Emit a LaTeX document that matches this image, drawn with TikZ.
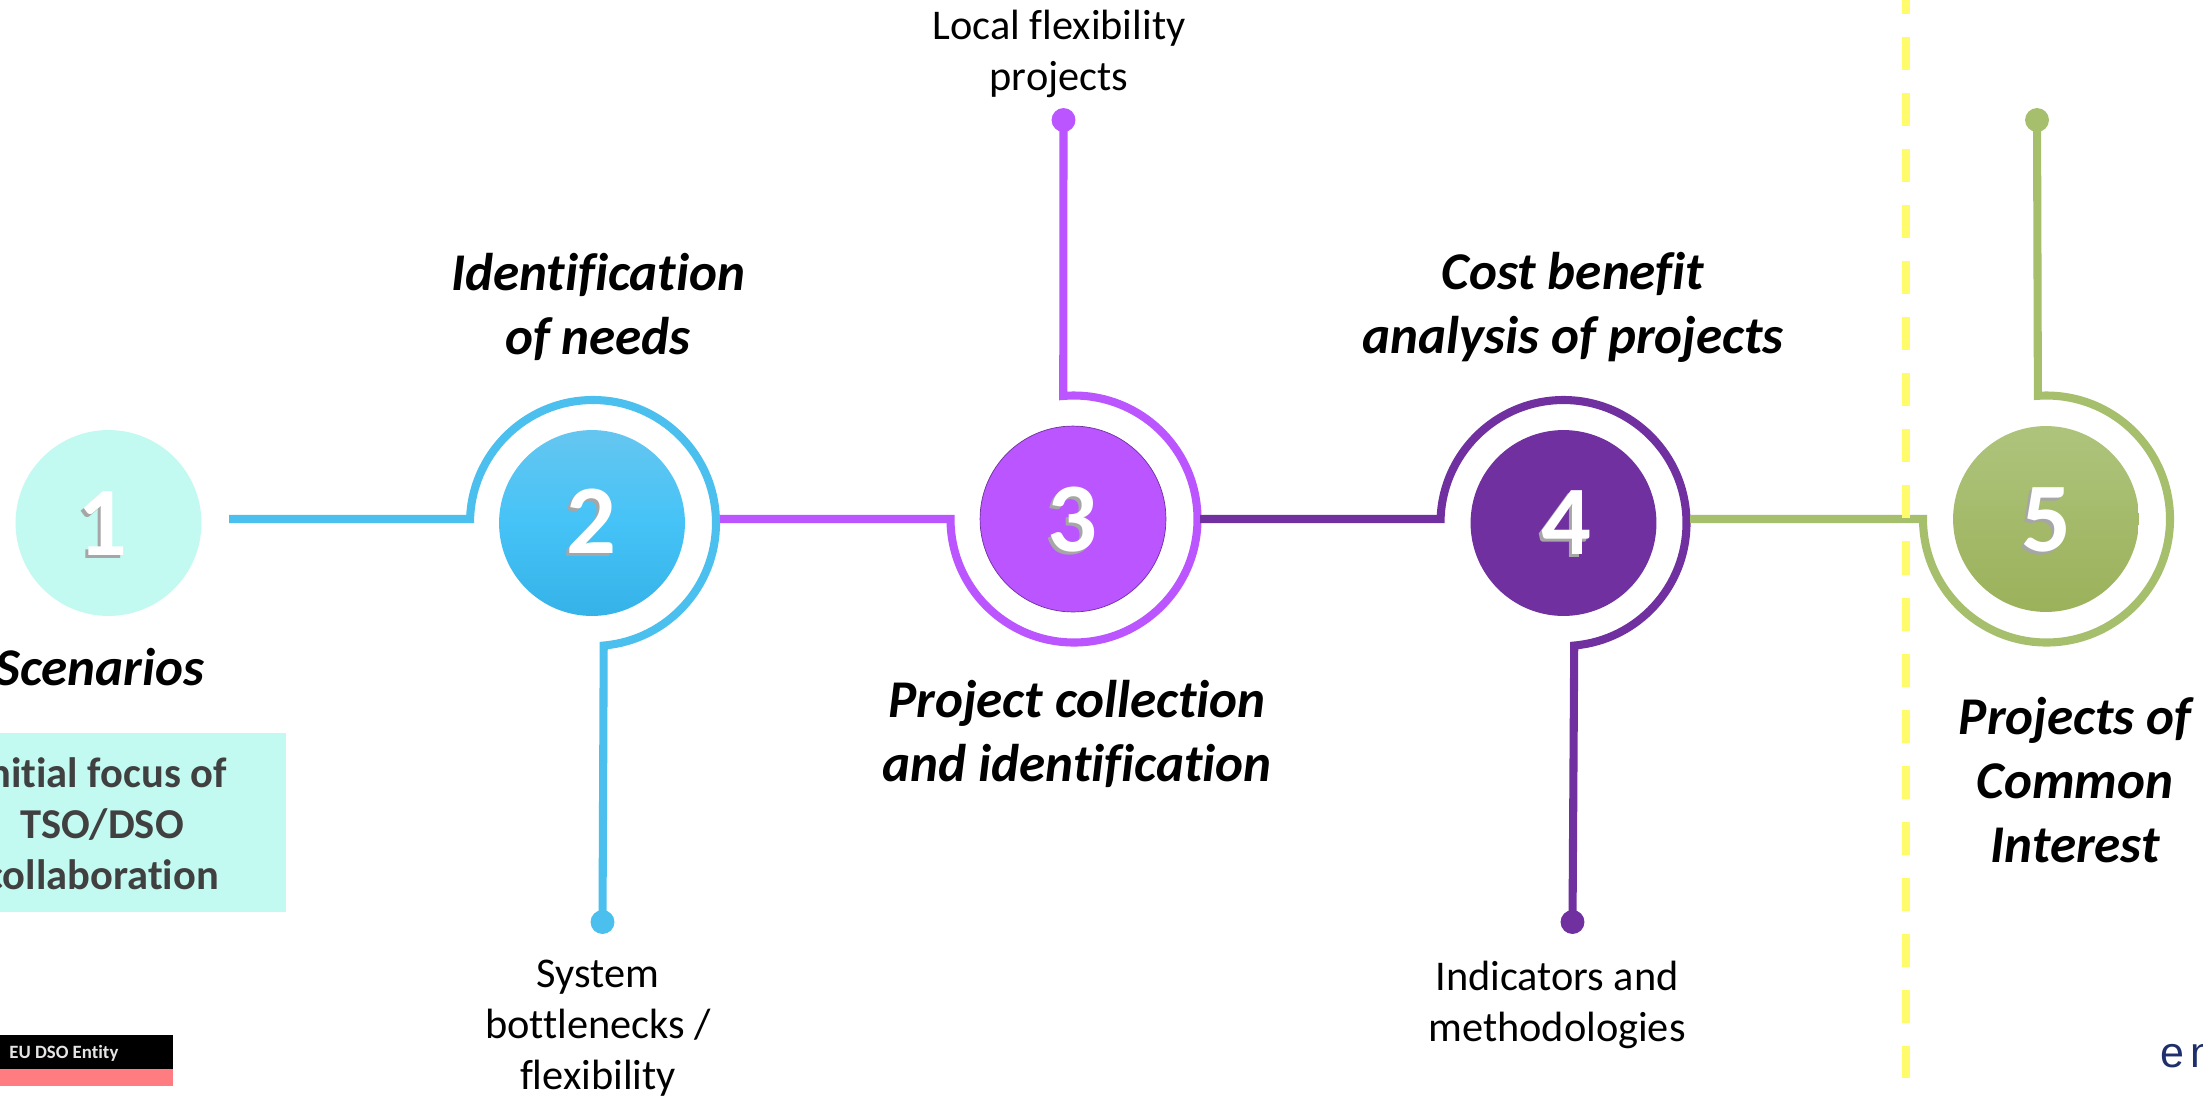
\documentclass[tikz,border=0pt]{standalone}
\usepackage{fontspec}
\setmainfont[Ligatures=NoCommon]{Carlito}
\newfontfamily\logofont{Liberation Sans}
\definecolor{cmint}{HTML}{C2F9F0}
\definecolor{cblue}{HTML}{4BC0EE}
\definecolor{cbluetop}{HTML}{65C6F0}
\definecolor{cbluemid}{HTML}{45C3F7}
\definecolor{cbluelow}{HTML}{35B3E8}
\definecolor{cviolet}{HTML}{BA55FF}
\definecolor{cdeep}{HTML}{7030A0}
\definecolor{cgreen}{HTML}{A6BF6C}
\definecolor{cgreentop}{HTML}{AEC47C}
\definecolor{cgreenlow}{HTML}{9BB15A}
\definecolor{cyel}{HTML}{FFFB6B}
\definecolor{cnavy}{HTML}{1F2F6B}
\definecolor{clegend}{HTML}{FF7C80}
\newcommand{\digitnode}[3]{%
  \node[digitshadow] at (#1-3,#2+3) {#3};
  \node[digit] at (#1,#2) {#3};}
\tikzset{
  digit/.style={text=white,font=\fontsize{56}{60}\selectfont\bfseries,inner sep=0pt},
  digitshadow/.style={text=black!35,font=\fontsize{56}{60}\selectfont\bfseries,inner sep=0pt},
  wire/.style={line width=4.6pt,miter limit=10,line join=miter},
  tip/.style={circle,inner sep=0pt,minimum size=13.6pt},
  head/.style={align=center,font=\fontsize{30.2}{36.5}\selectfont\bfseries\itshape,text=black,inner sep=0pt},
  sub/.style={align=center,font=\fontsize{24.1}{29}\selectfont,text=black,inner sep=0pt},
  disc/.style={circle,inner sep=0pt,minimum size=105.8pt},
}
\begin{document}
\begin{tikzpicture}[x=0.02cm,y=-0.02cm]
\useasboundingbox (0,0) rectangle (2203,1096);
\fill[white] (0,0) rectangle (2203,1096);
% box and legend
\node[fill=cmint,minimum width=1cm,inner sep=0pt,anchor=north west,minimum height=3.58cm,text width=6.44cm] (focusbox) at (-36,733) {};
\node[align=center,font=\fontsize{24.2}{29}\selectfont\bfseries,text=black!75,inner sep=0pt] (focus) at (102,824) {Initial focus of\\TSO/DSO\\collaboration};
\fill[black] (-5,1035) rectangle (172.5,1069);
\fill[clegend] (-5,1069) rectangle (172.5,1086);
\node[anchor=west,text=white!90!black,font=\fontsize{10.7}{13}\selectfont\bfseries,inner sep=0pt] (legend) at (9,1053) {EU DSO Entity};
% discs
\node[disc,fill=cmint] (d1) at (108.5,523) {};
\node[disc,top color=cbluetop,bottom color=cbluelow,middle color=cbluemid] (d2) at (592,523) {};
\node[disc,fill=cviolet,draw=cdeep,line width=0.4pt] (d3) at (1073,519) {};
\node[disc,fill=cdeep] (d4) at (1563.5,523) {};
\node[disc,top color=cgreentop,middle color=cgreen,bottom color=cgreenlow] (d5) at (2046,519) {};
% tips and ring coordinates
\node[tip,fill=cblue] (t2) at (602.5,922) {};
\node[tip,fill=cviolet] (t3) at (1063.5,120) {};
\node[tip,fill=cdeep] (t4) at (1572.5,922) {};
\node[tip,fill=cgreen] (t5) at (2037,120) {};
\coordinate (s1) at (229,519);
\coordinate (s2) at (720,519);
\coordinate (s3) at (1200,519);
\coordinate (s4) at (1690,519);
\coordinate (r2) at (470,523);
\coordinate (r3) at (950.5,519);
\coordinate (r4) at (1440.5,523);
\coordinate (r5) at (1923,519);
% wires
\draw[wire,cblue] (s1) -- (r2 |- s1) -- (r2) arc[start angle=180,end angle=445,radius=123] -- (t2.center);
\draw[wire,cviolet] (s2) -- (r3) arc[start angle=180,end angle=-95,radius=123.5] -- (t3.center);
\draw[wire,cdeep] (s3) -- (r4 |- s3) -- (r4) arc[start angle=180,end angle=445,radius=123] -- (t4.center);
\draw[wire,cgreen] (s4) -- (r5) arc[start angle=180,end angle=-94,radius=123.5] -- (t5.center);
% boundary
\coordinate (ytop) at (1906,-19);
\coordinate (ybot) at (1906,1078);
\draw[cyel,line width=4.55pt,dash pattern=on 18.8pt off 13.1pt] (ytop) -- (ybot);
% digits
\digitnode{102}{524}{1}
\digitnode{591.5}{521}{2}
\digitnode{1072}{520}{3}
\digitnode{1566}{523}{4}
\digitnode{2046}{520}{5}
% labels
\node[head] (h1) at (100,667) {Scenarios};
\node[head] (h2) at (598,307) {Identification\\of needs};
\node[head] (h3) at (1077,734) {Project collection\\and identification};
\node[head] (h4) at (1573,307) {Cost benefit\\analysis of projects};
\node[head] (h5) at (2075,780) {Projects of\\Common\\Interest};
\node[sub] (l2) at (598,1028) {System\\bottlenecks /\\flexibility};
\node[sub] (l3) at (1059,54) {Local flexibility\\projects};
\node[sub] (l4) at (1557,1005) {Indicators and\\methodologies};
\node[anchor=base west,text=cnavy,font=\logofont\fontsize{24.5}{28}\selectfont,inner sep=0pt] (logo) at (2160,1067) {e\hspace{3.5pt}n};
\end{tikzpicture}
\end{document}
